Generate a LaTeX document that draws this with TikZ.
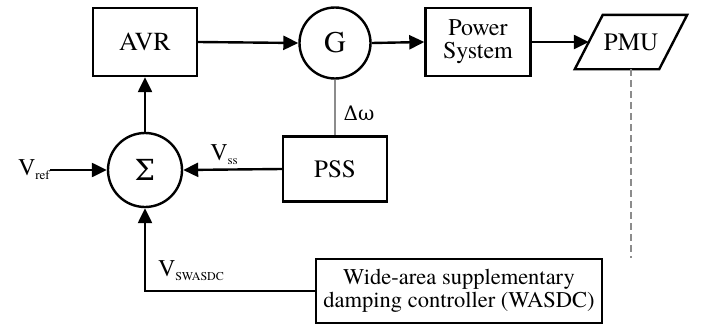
\documentclass[tikz,border=0pt]{standalone}
\usepackage{fontspec}
\setmainfont{texgyretermes}[Extension=.otf,UprightFont=*-regular,BoldFont=*-bold,ItalicFont=*-italic]
\newfontfamily\greekf{DejaVu Serif}
\usetikzlibrary{arrows.meta,calc}
\begin{document}
\begin{tikzpicture}[x=1pt,y=-1pt,
  blk/.style={draw,line width=2.4pt,minimum width=104pt,minimum height=68pt,inner sep=0pt,align=center,font=\fontsize{25}{26}\selectfont},
  circ/.style={draw,circle,line width=2.4pt,minimum size=71pt,inner sep=0pt,font=\fontsize{30}{30}\selectfont},
  conn/.style={line width=2.4pt,-{Triangle[length=15pt,width=14pt]}},
  grayline/.style={line width=1.6pt,draw=black!45},
  lbl/.style={inner sep=0pt,font=\fontsize{24}{24}\selectfont}]
\useasboundingbox (0,0) rectangle (709,324);
\node[blk,font=\fontsize{26}{26}\selectfont] (avr) at (145,42) {AVR};
\node[circ] (g) at (335,43) {G};
\node[blk,minimum width=105pt,font=\fontsize{24}{24}\selectfont] (ps) at (478,42) {Power\\[-1pt]System};
\node[draw=none,minimum width=84pt,minimum height=54pt,inner sep=0pt,font=\fontsize{25}{25}\selectfont] (pmu) at (631,42) {PMU};
\draw[line width=2.4pt,line join=miter] ($(pmu.south west)+(-14,0)$) -- ($(pmu.north west)+(14,0)$) -- ($(pmu.north east)+(14,0)$) -- ($(pmu.south east)+(-14,0)$) -- cycle;
\node[circ,minimum size=74pt,font=\greekf\fontsize{29}{29}\selectfont] (sum) at (145,170) {Σ};
\node[blk,minimum width=104pt,minimum height=65pt] (pss) at (335,169) {PSS};
\node[blk,minimum width=286pt,minimum height=64pt,font=\fontsize{22.5}{24}\selectfont] (wasdc) at (459,291) {Wide-area supplementary\\[-1pt]damping controller (WASDC)};
\coordinate (vin) at (50,170);
\node[lbl,anchor=east] (vref) at (vin) {V\raisebox{-4pt}{\fontsize{13}{13}\selectfont ref}};
\draw[conn] (vin) -- (sum.west);
\draw[conn] (sum.north) -- (avr.south);
\draw[conn] (avr.east) -- (g.west);
\draw[conn] (g.east) -- (ps.west);
\draw[conn] (ps.east) -- (pmu.west);
\draw[conn] (pss.west) -- (sum.east);
\draw[grayline] (g.south) -- (g.south |- pss.north);
\draw[grayline,dash pattern=on 7pt off 4pt] (pmu.south) -- (pmu.south |- wasdc.north);
\draw[conn] (wasdc.west) -- (sum.south |- wasdc.west) -- (sum.south);
\node[lbl] (vss) at (224,155) {V\raisebox{-4pt}{\fontsize{13}{13}\selectfont ss}};
\node[lbl,font=\greekf\fontsize{20}{20}\selectfont] (dw) at (359,113) {Δω};
\node[lbl] (vsw) at (191,271) {V\raisebox{-4pt}{\fontsize{12}{12}\selectfont SWASDC}};
\end{tikzpicture}
\end{document}
